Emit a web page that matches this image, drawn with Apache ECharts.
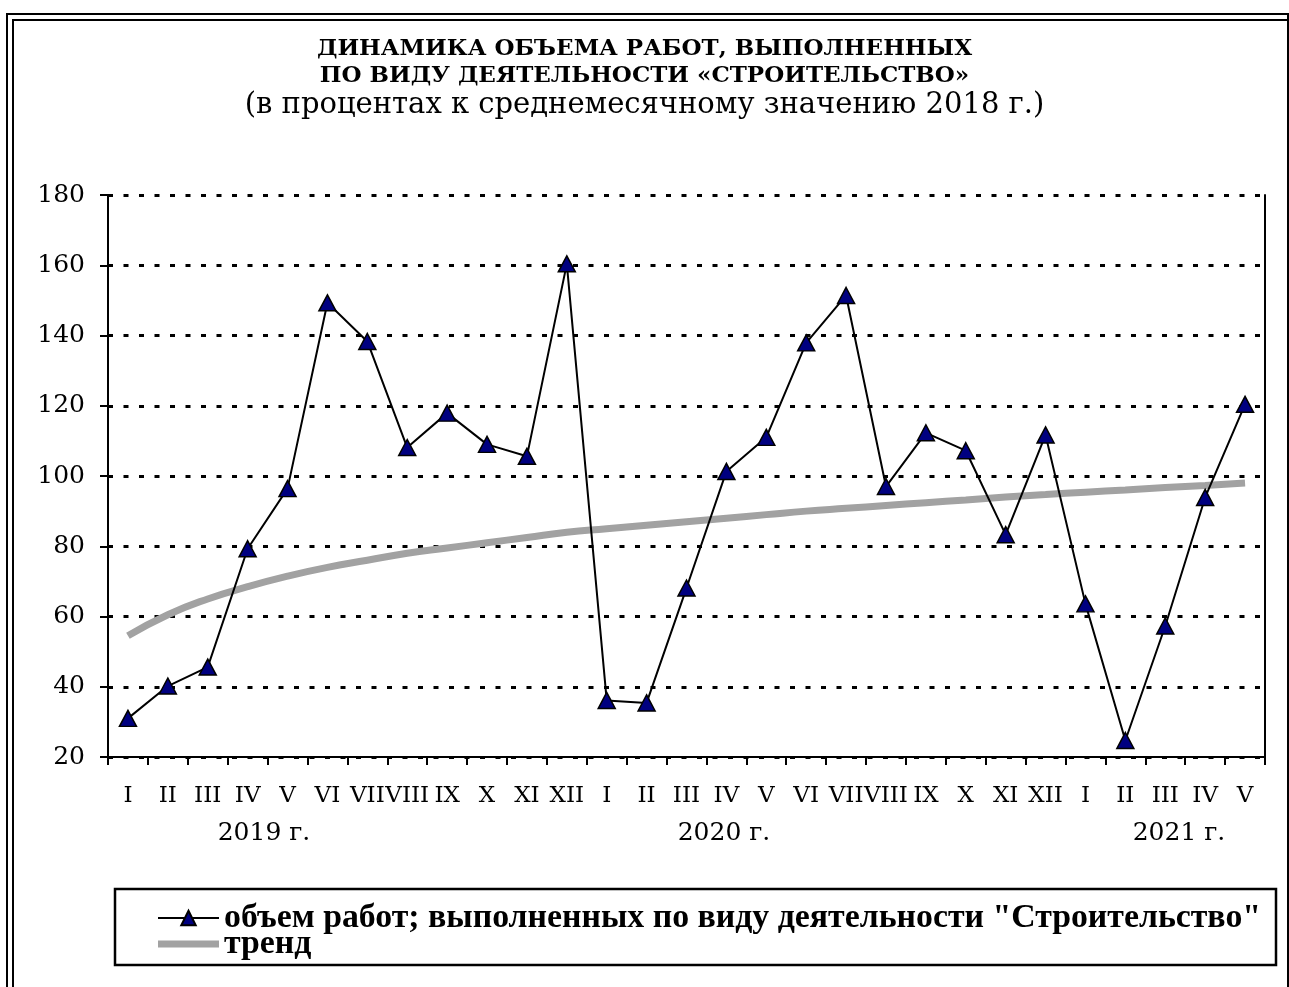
<!DOCTYPE html>
<html>
<head>
<meta charset="utf-8">
<script src="https://cdn.jsdelivr.net/npm/echarts@6/dist/echarts.min.js"></script>
<style>
  html, body { margin: 0; padding: 0; background: #fff; }
  #chart { width: 1289px; height: 987px; }
</style>
</head>
<body>
<div id="chart"></div>
<script>
// months, 2019-01 .. 2021-05
var months = ['I', 'II', 'III', 'IV', 'V', 'VI', 'VII', 'VIII', 'IX', 'X', 'XI', 'XII',
              'I', 'II', 'III', 'IV', 'V', 'VI', 'VII', 'VIII', 'IX', 'X', 'XI', 'XII',
              'I', 'II', 'III', 'IV', 'V'];
var years = ['2019 г.', '2020 г.', '2021 г.'];

// объем работ, % к среднемесячному значению 2018 г.
var volume = [31, 40.2, 45.6, 79.3, 96.4, 149.3, 138.3, 108.1, 117.9, 109, 105.6, 160.4,
              36.1, 35.4, 68.1, 101.3, 111, 137.9, 151.4, 97, 112.3, 107.2, 83.3, 111.7,
              63.6, 24.7, 57.3, 93.9, 120.4];

// тренд
var trend = [54.5, 60.5, 65, 68.5, 71.5, 74, 76, 78, 79.5, 81, 82.5, 84,
             85, 86, 87, 88, 89, 90, 90.8, 91.6, 92.4, 93.2, 94, 94.7,
             95.4, 96, 96.7, 97.3, 98];

var serif = 'DejaVu Serif';
var times = 'Liberation Serif';
var volName = 'объем работ; выполненных по виду деятельности "Строительство"';

var chart = echarts.init(document.getElementById('chart'));

chart.setOption({
    backgroundColor: '#fff',
    animation: false,
    textStyle: { fontFamily: serif, color: '#000' },
    title: {
        text: 'ДИНАМИКА ОБЪЕМА РАБОТ, ВЫПОЛНЕННЫХ\nПО ВИДУ ДЕЯТЕЛЬНОСТИ «СТРОИТЕЛЬСТВО»',
        subtext: '(в процентах к среднемесячному значению 2018 г.)',
        left: 'center',
        top: 31,
        itemGap: 1,
        textStyle: { fontFamily: serif, fontSize: 23, fontWeight: 'bold', color: '#000', lineHeight: 27 },
        subtextStyle: { fontFamily: serif, fontSize: 29, color: '#000' }
    },
    legend: {
        left: 152,
        top: 896,
        orient: 'vertical',
        itemWidth: 61,
        itemHeight: 18,
        itemGap: -8,
        textStyle: { fontFamily: times, fontSize: 33.8, fontWeight: 'bold', color: '#000' },
        data: [
            { name: volName },
            { name: 'тренд', icon: 'path://M0,0H61V7H0Z' }
        ]
    },
    grid: {
        left: 108,
        right: 24,
        top: 195,
        bottom: 230
    },
    xAxis: {
        type: 'category',
        data: months,
        boundaryGap: true,
        axisLine: { lineStyle: { color: '#000', width: 2 } },
        axisTick: { show: true, length: 8, lineStyle: { color: '#000', width: 2 } },
        axisLabel: { interval: 0, margin: 28, fontSize: 23, fontFamily: serif, color: '#000' }
    },
    yAxis: [
        {
            type: 'value',
            min: 20,
            max: 180,
            interval: 20,
            axisLine: { show: true, lineStyle: { color: '#000', width: 2 } },
            axisTick: { show: true, length: 8, lineStyle: { color: '#000', width: 2 } },
            axisLabel: { margin: 23, fontSize: 25, fontFamily: serif, color: '#000' },
            splitLine: { lineStyle: { color: '#000', width: 3, type: [5, 10.5] } }
        },
        {
            type: 'value',
            position: 'right',
            min: 20,
            max: 180,
            interval: 20,
            axisLine: { show: true, lineStyle: { color: '#000', width: 2 } },
            axisTick: { show: false },
            axisLabel: { show: false },
            splitLine: { show: false }
        }
    ],
    series: [
        {
            name: 'тренд',
            type: 'line',
            data: trend,
            symbol: 'none',
            smooth: true,
            z: 2,
            lineStyle: { color: '#a2a2a2', width: 7 },
            itemStyle: { color: '#a2a2a2' }
        },
        {
            name: volName,
            type: 'line',
            data: volume,
            symbol: 'triangle',
            symbolSize: [17, 16],
            z: 3,
            lineStyle: { color: '#000', width: 2 },
            itemStyle: { color: '#000080', borderColor: '#000', borderWidth: 1.5 }
        }
    ],
    graphic: [
        // double frame
        { type: 'rect', shape: { x: 7, y: 14, width: 1281, height: 990 }, style: { fill: null, stroke: '#000', lineWidth: 2 }, silent: true },
        { type: 'rect', shape: { x: 13, y: 20, width: 1300, height: 990 }, style: { fill: null, stroke: '#000', lineWidth: 2 }, silent: true },
        // legend box
        { type: 'rect', shape: { x: 115, y: 889, width: 1161, height: 76 }, style: { fill: null, stroke: '#000', lineWidth: 2.5 }, silent: true },
        // year captions
        { type: 'text', x: 264, y: 833, style: { text: years[0], font: '25px ' + serif, fill: '#000', align: 'center', verticalAlign: 'middle' } },
        { type: 'text', x: 724, y: 833, style: { text: years[1], font: '25px ' + serif, fill: '#000', align: 'center', verticalAlign: 'middle' } },
        { type: 'text', x: 1179, y: 833, style: { text: years[2], font: '25px ' + serif, fill: '#000', align: 'center', verticalAlign: 'middle' } }
    ]
});
</script>
</body>
</html>
